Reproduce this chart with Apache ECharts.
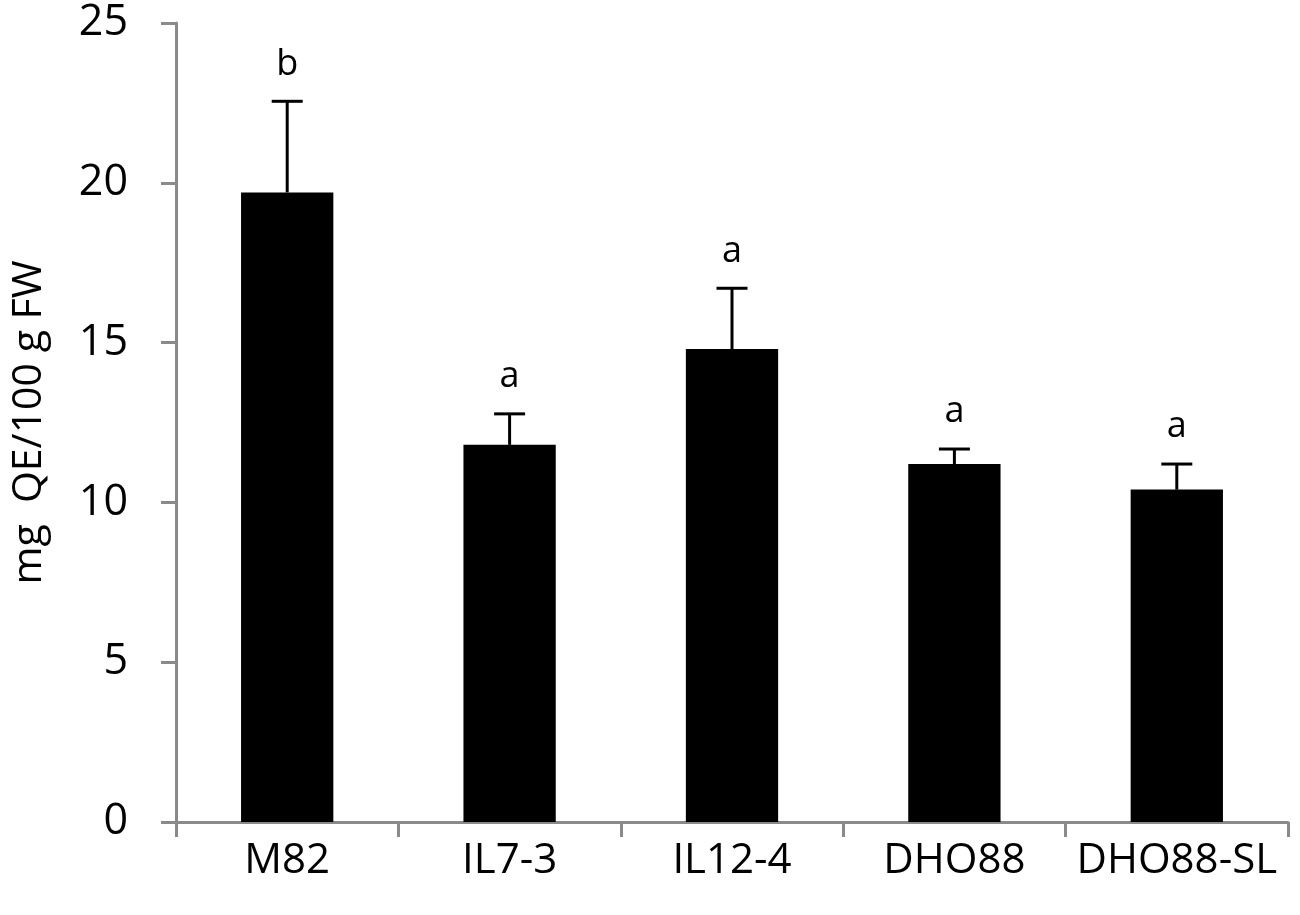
<!DOCTYPE html>
<html>
<head>
<meta charset="utf-8">
<script src="https://cdn.jsdelivr.net/npm/echarts@6/dist/echarts.min.js"></script>
<style>html,body{margin:0;padding:0;background:#fff}#c{width:1300px;height:915px}</style>
</head>
<body>
<div id="c"></div>
<script>
const categories = ['M82', 'IL7-3', 'IL12-4', 'DHO88', 'DHO88-SL'];
const means = [19.7, 11.8, 14.8, 11.2, 10.4];
const errors = [2.85, 0.97, 1.9, 0.47, 0.8];
const letters = ['b', 'a', 'a', 'a', 'a'];
const yTicks = { min: 0, max: 25, interval: 5 };
const yName = 'mg  QE/100 g FW';

const FONT = '"Open Sans", sans-serif';
const AXIS_COLOR = '#8a8a8a';

const errData = categories.map((c, i) => [i, means[i] + errors[i], means[i]]);

const chart = echarts.init(document.getElementById('c'));
chart.setOption({
  animation: false,
  backgroundColor: '#fff',
  grid: { left: 176, right: 12, top: 23, bottom: 93, containLabel: false },
  xAxis: {
    type: 'category',
    data: categories,
    axisLine: { lineStyle: { color: AXIS_COLOR, width: 3 } },
    axisTick: { show: true, alignWithLabel: false, interval: 0, length: 15, lineStyle: { color: AXIS_COLOR, width: 3 } },
    axisLabel: { color: '#000', fontSize: 42, fontFamily: FONT, margin: 18, interval: 0 },
    splitLine: { show: false }
  },
  yAxis: {
    type: 'value',
    min: yTicks.min, max: yTicks.max, interval: yTicks.interval,
    name: yName,
    nameLocation: 'middle',
    nameRotate: 90,
    nameGap: 126,
    nameTextStyle: { color: '#000', fontSize: 41, fontFamily: FONT },
    axisLine: { show: true, lineStyle: { color: AXIS_COLOR, width: 3 } },
    axisTick: { show: true, length: 15, lineStyle: { color: AXIS_COLOR, width: 3 } },
    axisLabel: { color: '#000', fontSize: 43, fontFamily: FONT, margin: 48 },
    splitLine: { show: false }
  },
  series: [
    {
      type: 'bar',
      data: means,
      barWidth: '41.5%',
      itemStyle: { color: '#000' }
    },
    {
      type: 'custom',
      data: errData,
      encode: { x: 0, y: 1 },
      z: 5,
      renderItem: function (params, api) {
        const top = api.coord([api.value(0), api.value(1)]);
        const base = api.coord([api.value(0), api.value(2)]);
        const cap = 15.5;
        return {
          type: 'group',
          children: [
            { type: 'line', shape: { x1: top[0], y1: base[1], x2: top[0], y2: top[1] }, style: { stroke: '#000', lineWidth: 3 } },
            { type: 'line', shape: { x1: top[0] - cap, y1: top[1], x2: top[0] + cap, y2: top[1] }, style: { stroke: '#000', lineWidth: 3 } },
            { type: 'text', style: { text: letters[params.dataIndex], x: top[0], y: top[1] - 19, fill: '#000', fontSize: 36, fontFamily: FONT, align: 'center', verticalAlign: 'bottom' } }
          ]
        };
      }
    }
  ]
});
</script>
</body>
</html>
